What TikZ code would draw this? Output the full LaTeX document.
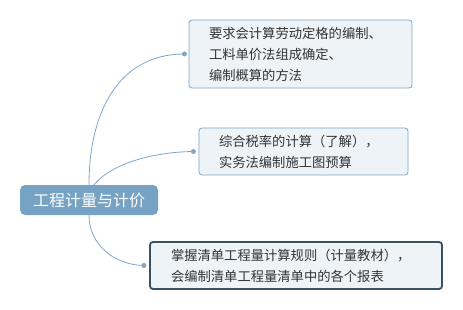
\documentclass[tikz,border=0pt]{standalone}
\usepackage{fontspec}
\setmainfont{Noto Sans CJK SC}
\usepackage{tikz}
\usetikzlibrary{positioning,calc}
\definecolor{rootblue}{HTML}{76A3C3}
\definecolor{boxfill}{HTML}{EEF3F7}
\definecolor{boxline}{HTML}{7FA6C8}
\definecolor{darkline}{HTML}{3A5164}
\definecolor{txt}{HTML}{333333}

\begin{document}
\begin{tikzpicture}[x=1pt,y=-1pt,
  root/.style={fill=rootblue,rounded corners=5pt,text=white,minimum width=138pt,minimum height=30pt,
    font=\fontsize{16}{18}\selectfont},
  sub/.style={draw=boxline,line width=0.8pt,fill=boxfill,rounded corners=3pt,text=txt,align=left,
    inner xsep=20pt,font=\fontsize{13.3}{21}\selectfont},
  dot/.style={circle,fill=boxline,inner sep=0pt,minimum size=5pt},
  link/.style={draw=boxline,line width=0.8pt}]
  \fill[white!98!boxfill] (0,0) rectangle (463,310);
  \useasboundingbox (0,0) rectangle (463,310);
  \node[root] (root) at (89,200) {工程计量与计价};
  \node[sub,text width=183pt,minimum height=68pt] (t1) at (300.5,54)
    {要求会计算劳动定格的编制、\\工料单价法组成确定、\\编制概算的方法};
  \node[sub,text width=169pt,minimum height=47pt] (t2) at (303.5,151.5)
    {综合税率的计算（了解），\\实务法编制施工图预算};
  \node[sub,draw=darkline,line width=1.8pt,inner xsep=21pt,text width=250pt,minimum height=47pt] (t3) at (296,265.5)
    {掌握清单工程量计算规则（计量教材），\\会编制清单工程量清单中的各个报表};
  \node[dot,left=1.5pt of t1] (d1) {};
  \node[dot,left=2.5pt of t2] (d2) {};
  \node[dot,left=2.5pt of t3] (d3) {};
  \draw[link] (root.north) .. controls (89,110) and (120,54) .. (d1.center);
  \draw[link] ($(root.north)+(5,0)$) .. controls (110,165) and (150,152) .. (d2.center);
  \draw[link] (root.south) .. controls (89,245) and (115,265) .. (d3.center);
\end{tikzpicture}
\end{document}
